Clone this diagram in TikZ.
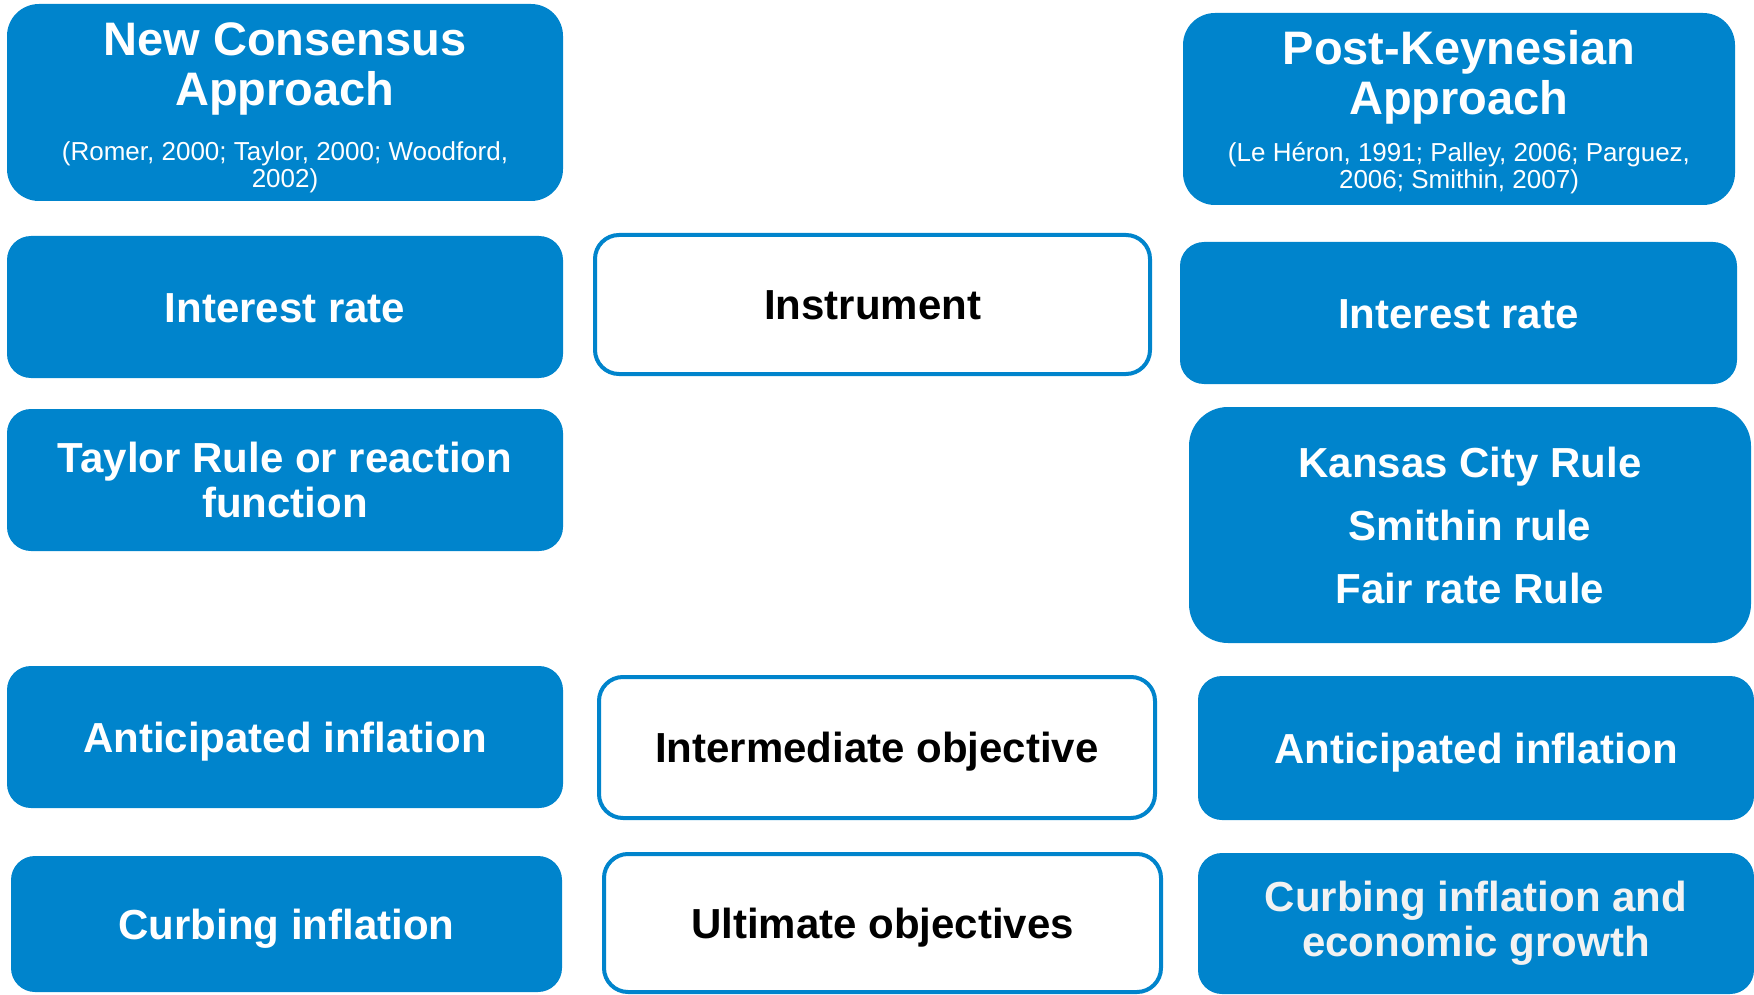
\documentclass[tikz,border=0pt]{standalone}
\usepackage{fontspec}
\setmainfont{Liberation Sans}
\definecolor{pblue}{RGB}{0,132,204}
\definecolor{offwhite}{RGB}{242,242,242}
\begin{document}
\begin{tikzpicture}[x=1pt,y=-1pt,
  fbox/.style={fill=pblue, draw=none, inner sep=0pt, text=white, align=center,
    font=\fontsize{42}{45}\selectfont\bfseries, rounded corners=24pt},
  obox/.style={fill=white, draw=pblue, line width=4pt, inner sep=0pt, text=black,
    font=\fontsize{42}{45}\selectfont\bfseries, rounded corners=24pt},
  oneline/.style={text height=30pt, text depth=0pt},
  ttl/.style={text=white, inner sep=0pt, align=center, font=\fontsize{47}{50}\selectfont\bfseries},
  cit/.style={text=white, inner sep=0pt, align=center, font=\fontsize{26}{27}\selectfont},
  sz/.style 2 args={minimum width=#1pt, minimum height=#2pt}
]
\path[use as bounding box] (0,0) rectangle (1754,995);

% headers
\node[fbox, sz={556}{197}, rounded corners=32pt] (nc) at (285,102.5) {};
\node[ttl] (nct) at (285,69) {New Consensus\\Approach};
\node[cit] (ncc) at (285,166.8) {(Romer, 2000; Taylor, 2000; Woodford,\\2002)};

\node[fbox, sz={552}{192}, rounded corners=32pt] (pk) at (1459,109) {};
\node[ttl] (pkt) at (1459,77) {Post-Keynesian\\Approach};
\node[cit] (pkc) at (1459,167.8) {(Le Héron, 1991; Palley, 2006; Parguez,\\2006; Smithin, 2007)};

% left column
\node[fbox, oneline, sz={556}{142}] (irL) at (285,307) {Interest rate};
\node[fbox, sz={556}{142}] (tay) at (285,480) {Taylor Rule or reaction\\function};
\node[fbox, oneline, sz={556}{142}] (aiL) at (285,737) {Anticipated inflation};
\node[fbox, oneline, sz={551}{136}] (cuL) at (286.5,924) {Curbing inflation};

% middle column
\node[obox, oneline, sz={555}{139}] (ins) at (872.5,304.5) {Instrument};
\node[obox, oneline, sz={556}{141}] (int) at (877,747.5) {Intermediate objective};
\node[obox, oneline, sz={557}{138}] (ult) at (882.5,923) {Ultimate objectives};

% right column
\node[fbox, oneline, sz={557}{142}] (irR) at (1458.5,313) {Interest rate};
\node[fbox, sz={562}{236}, rounded corners=39pt, font=\fontsize{42}{63}\selectfont\bfseries] (kc) at (1470,525) {Kansas City Rule\\Smithin rule\\Fair rate Rule};
\node[fbox, oneline, sz={556}{144}] (aiR) at (1476,748) {Anticipated inflation};
\node[fbox, sz={556}{141}, text=offwhite] (cuR) at (1476,923.5) {Curbing inflation and\\economic growth};
\end{tikzpicture}
\end{document}
